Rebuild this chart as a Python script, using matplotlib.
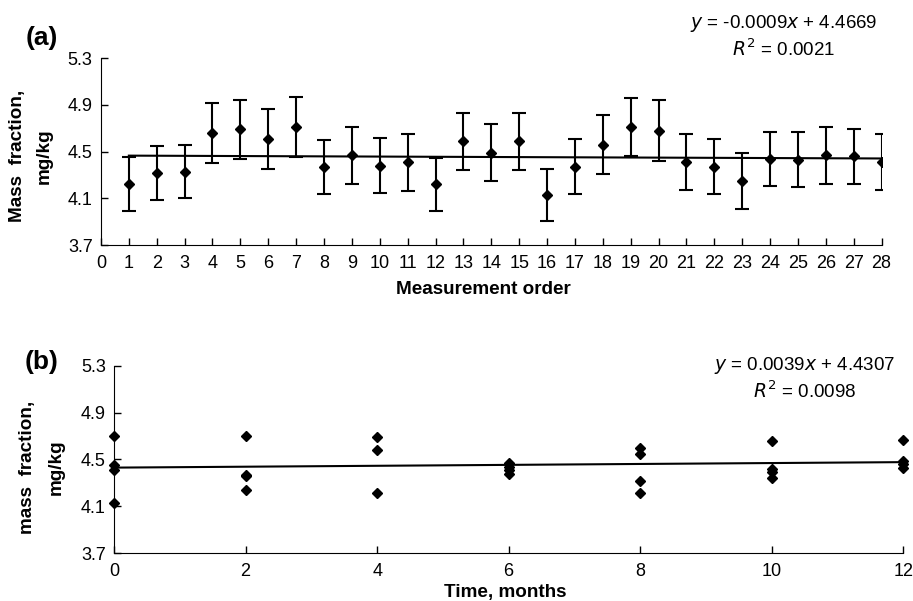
import numpy as np
import matplotlib
matplotlib.use("Agg")
import matplotlib.pyplot as plt

plt.rcParams['font.family'] = ['Liberation Sans', 'DejaVu Sans']

# (a) mass fraction by measurement order, with uncertainty
order = list(range(1, 29))
mass_a = [4.22, 4.32, 4.33, 4.66, 4.69, 4.61, 4.71, 4.37, 4.47, 4.38,
          4.41, 4.22, 4.59, 4.49, 4.59, 4.13, 4.37, 4.56, 4.71, 4.68,
          4.41, 4.37, 4.25, 4.44, 4.43, 4.47, 4.46, 4.41]
err_a = [0.23, 0.23, 0.23, 0.255, 0.255, 0.255, 0.26, 0.23, 0.245, 0.235,
         0.245, 0.225, 0.245, 0.245, 0.245, 0.22, 0.235, 0.25, 0.25, 0.26,
         0.24, 0.235, 0.24, 0.23, 0.235, 0.245, 0.235, 0.24]
slope_a, icpt_a = -0.0009, 4.4669

# (b) mass fraction vs storage time
months_b = [0, 0, 0, 0, 2, 2, 2, 2, 4, 4, 4, 6, 6, 6, 6,
            8, 8, 8, 8, 10, 10, 10, 10, 12, 12, 12, 12]
mass_b = [4.70, 4.45, 4.41, 4.13, 4.70, 4.36, 4.37, 4.24, 4.69, 4.58, 4.21,
          4.47, 4.44, 4.41, 4.38, 4.60, 4.55, 4.32, 4.21,
          4.66, 4.42, 4.39, 4.34, 4.67, 4.49, 4.46, 4.43]
slope_b, icpt_b = 0.0039, 4.4307

yticks = [3.7, 4.1, 4.5, 4.9, 5.3]
W, H = 913, 601


def style_axes(ax):
    ax.spines['top'].set_visible(False)
    ax.spines['right'].set_visible(False)
    ax.tick_params(direction='in', length=5, width=1, labelsize=13)
    ax.tick_params(axis='x', pad=7)
    ax.tick_params(axis='y', pad=6)
    ax.set_yticks(yticks)
    ax.set_yticklabels([f"{v:.1f}" for v in yticks])
    ax.set_ylim(3.7, 5.3)


def place_labels(ax, xl, yl):
    ax.xaxis.set_label_coords(xl[0] / W, 1 - xl[1] / H, transform=fig.transFigure)
    ax.xaxis.label.set_va('center')
    ax.yaxis.set_label_coords(yl[0] / W, 1 - yl[1] / H, transform=fig.transFigure)
    ax.yaxis.label.set_va('center')


fig = plt.figure(figsize=(9.13, 6.01), dpi=100)

ax1 = fig.add_axes([0.1106, 0.5923, 0.855, 0.3107])
ax1.errorbar(order, mass_a, yerr=err_a, fmt='D', color='black', ms=5.5,
             ecolor='black', elinewidth=1.5, capsize=5, capthick=1.5)
xa = np.array([order[0], order[-1]])
ax1.plot(xa, slope_a * xa + icpt_a, color='black', lw=1.5)
style_axes(ax1)
ax1.set_xlim(0, 28)
ax1.set_xticks(range(0, 29))
ax1.set_xlabel('Measurement order', fontsize=13.6, fontweight='bold')
ax1.set_ylabel('Mass  fraction,\nmg/kg', fontsize=13.6, fontweight='bold',
               linespacing=1.75)
place_labels(ax1, (483, 290), (31, 156))
fig.text(784 / W, 1 - 23 / H, r'$y$ = -0.0009$x$ + 4.4669',
         ha='center', va='center', fontsize=13.5)
fig.text(784 / W, 1 - 49 / H, r'$R^2$ = 0.0021',
         ha='center', va='center', fontsize=13.5)
fig.text(42 / W, 1 - 38 / H, '(a)', ha='center', va='center',
         fontsize=19, fontweight='bold')

ax2 = fig.add_axes([0.1249, 0.0794, 0.8645, 0.3121])
ax2.plot(months_b, mass_b, 'D', color='black', ms=5.5, clip_on=False)
xb = np.array([0, 12])
ax2.plot(xb, slope_b * xb + icpt_b, color='black', lw=1.5)
style_axes(ax2)
ax2.set_xlim(0, 12)
ax2.set_xticks(range(0, 13, 2))
ax2.set_xlabel('Time, months', fontsize=13.6, fontweight='bold')
ax2.set_ylabel('mass  fraction,\nmg/kg', fontsize=13.6, fontweight='bold',
               linespacing=1.85)
place_labels(ax2, (505, 593), (42, 467))
fig.text(805 / W, 1 - 365 / H, r'$y$ = 0.0039$x$ + 4.4307',
         ha='center', va='center', fontsize=13.5)
fig.text(805 / W, 1 - 391 / H, r'$R^2$ = 0.0098',
         ha='center', va='center', fontsize=13.5)
fig.text(42 / W, 1 - 362 / H, '(b)', ha='center', va='center',
         fontsize=19, fontweight='bold')

fig.savefig('out.png', dpi=100)
